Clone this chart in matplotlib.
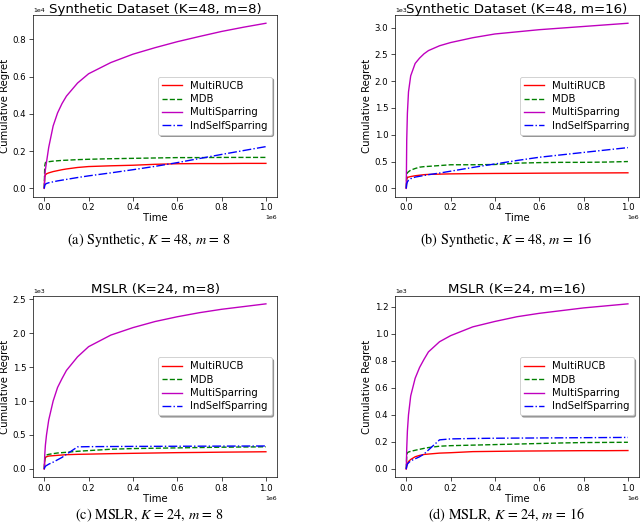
import matplotlib
matplotlib.use("Agg")
import matplotlib.pyplot as plt
import numpy as np

plt.rcParams['font.family'] = ['DejaVu Sans']
plt.rcParams['mathtext.fontset'] = 'stix'

DPI = 62
fig = plt.figure(figsize=(640 / DPI, 527 / DPI), dpi=DPI)

# time grid (x 1e6)
t = [0, 0.002, 0.005, 0.01, 0.02, 0.04, 0.06, 0.08, 0.1, 0.15, 0.2,
     0.3, 0.4, 0.5, 0.6, 0.7, 0.8, 0.9, 1.0]

labels = ["MultiRUCB", "MDB", "MultiSparring", "IndSelfSparring"]

# (a) Synthetic K=48, m=8  (values x 1e4)
a_rucb = [0, 0.06, 0.072, 0.078, 0.083, 0.09, 0.095, 0.10, 0.104, 0.112, 0.117,
          0.121, 0.124, 0.129, 0.132, 0.133, 0.133, 0.134, 0.134]
a_mdb = [0, 0.12, 0.138, 0.141, 0.143, 0.146, 0.148, 0.15, 0.151, 0.154, 0.156,
         0.159, 0.161, 0.163, 0.165, 0.165, 0.166, 0.166, 0.166]
a_ms = [0, 0.06, 0.10, 0.14, 0.22, 0.335, 0.405, 0.455, 0.495, 0.565, 0.615,
        0.675, 0.72, 0.755, 0.787, 0.815, 0.842, 0.865, 0.886]
a_iss = [0, 0.015, 0.022, 0.026, 0.030, 0.035, 0.04, 0.044, 0.048, 0.058, 0.067,
         0.083, 0.10, 0.118, 0.138, 0.16, 0.182, 0.203, 0.224]

# (b) Synthetic K=48, m=16  (values x 1e3)
b_rucb = [0, 0.17, 0.2, 0.21, 0.22, 0.235, 0.245, 0.255, 0.26, 0.265, 0.27,
          0.275, 0.278, 0.28, 0.283, 0.285, 0.287, 0.288, 0.29]
b_mdb = [0, 0.26, 0.29, 0.31, 0.34, 0.37, 0.395, 0.405, 0.41, 0.425, 0.44,
         0.44, 0.445, 0.47, 0.48, 0.485, 0.485, 0.49, 0.50]
b_ms = [0, 0.9, 1.4, 1.8, 2.1, 2.33, 2.43, 2.51, 2.57, 2.66, 2.72,
        2.81, 2.88, 2.92, 2.96, 2.99, 3.02, 3.05, 3.08]
b_iss = [0, 0.08, 0.12, 0.15, 0.18, 0.21, 0.225, 0.24, 0.255, 0.285, 0.32,
         0.39, 0.455, 0.52, 0.58, 0.625, 0.67, 0.715, 0.76]

# (c) MSLR K=24, m=8  (values x 1e3)
c_rucb = [0, 0.12, 0.165, 0.18, 0.19, 0.195, 0.2, 0.205, 0.21, 0.215, 0.218,
          0.225, 0.23, 0.235, 0.24, 0.243, 0.247, 0.25, 0.253]
c_mdb = [0, 0.15, 0.19, 0.205, 0.215, 0.225, 0.235, 0.24, 0.245, 0.26, 0.27,
         0.29, 0.30, 0.305, 0.31, 0.315, 0.32, 0.323, 0.326]
c_ms = [0, 0.2, 0.35, 0.5, 0.72, 1.0, 1.2, 1.33, 1.45, 1.65, 1.8,
        1.97, 2.08, 2.17, 2.24, 2.30, 2.35, 2.39, 2.43]
c_iss = [0, 0.02, 0.04, 0.05, 0.07, 0.10, 0.135, 0.17, 0.215, 0.325, 0.328,
         0.33, 0.332, 0.333, 0.334, 0.335, 0.336, 0.337, 0.338]

# (d) MSLR K=24, m=16  (values x 1e3)
d_rucb = [0, 0.02, 0.04, 0.055, 0.07, 0.09, 0.1, 0.107, 0.11, 0.117, 0.12,
          0.128, 0.13, 0.132, 0.133, 0.134, 0.135, 0.135, 0.136]
d_mdb = [0, 0.1, 0.12, 0.125, 0.13, 0.138, 0.145, 0.152, 0.158, 0.168, 0.172,
         0.176, 0.18, 0.184, 0.188, 0.192, 0.195, 0.196, 0.197]
d_ms = [0, 0.15, 0.28, 0.40, 0.54, 0.67, 0.75, 0.81, 0.865, 0.94, 0.985,
        1.05, 1.09, 1.125, 1.15, 1.17, 1.19, 1.205, 1.22]
d_iss = [0, 0.02, 0.035, 0.045, 0.06, 0.075, 0.09, 0.11, 0.14, 0.215, 0.222,
         0.225, 0.227, 0.228, 0.229, 0.23, 0.231, 0.232, 0.233]

panels = [
    dict(title="Synthetic Dataset (K=48, m=8)", scale=1e4, exp=4,
         data=[a_rucb, a_mdb, a_ms, a_iss],
         caption="(a) Synthetic, $K$ = 48, $m$ = 8"),
    dict(title="Synthetic Dataset (K=48, m=16)", scale=1e3, exp=3,
         data=[b_rucb, b_mdb, b_ms, b_iss],
         caption="(b) Synthetic, $K$ = 48, $m$ = 16"),
    dict(title="MSLR (K=24, m=8)", scale=1e3, exp=3,
         data=[c_rucb, c_mdb, c_ms, c_iss],
         caption="(c) MSLR, $K$ = 24, $m$ = 8"),
    dict(title="MSLR (K=24, m=16)", scale=1e3, exp=3,
         data=[d_rucb, d_mdb, d_ms, d_iss],
         caption="(d) MSLR, $K$ = 24, $m$ = 16"),
]

styles = [dict(color='r', ls='-'), dict(color='g', ls='--'),
          dict(color='m', ls='-'), dict(color='b', ls='-.')]

W = 243.8 / 640
H = 181.6 / 527
lefts = [33.2 / 640, 395.2 / 640]
bottoms = [(527 - 196.6) / 527, (527 - 477.2) / 527]
cap_x = [149 / 640, 506 / 640]
cap_y = [1 - 240 / 527, 1 - 515 / 527]

tx = np.array(t) * 1e6
for i, p in enumerate(panels):
    r, c = divmod(i, 2)
    ax = fig.add_axes([lefts[c], bottoms[r], W, H])
    for vals, st, lab in zip(p['data'], styles, labels):
        ax.plot(tx, np.array(vals) * p['scale'], lw=1.6, label=lab, **st)
    ax.set_title(p['title'], fontsize=15.6, pad=2.5, y=1.0)
    ax.set_xlabel("Time", fontsize=11.7, labelpad=1)
    ax.set_ylabel("Cumulative Regret", fontsize=11.7, labelpad=3)
    ax.ticklabel_format(axis='y', style='sci', scilimits=(p['exp'], p['exp']))
    ax.ticklabel_format(axis='x', style='sci', scilimits=(6, 6))
    ax.tick_params(labelsize=10, length=4.5)
    ax.yaxis.get_offset_text().set_fontsize(7.2)
    ax.xaxis.get_offset_text().set_fontsize(7.2)
    ax.legend(loc='center right', shadow=True, fontsize=11.7,
              labelspacing=0.33, borderpad=0.4)
    fig.text(cap_x[c], cap_y[r], p['caption'], family='STIXGeneral',
             fontsize=16.5, ha='center', va='center')

fig.savefig("out.png", dpi=DPI)
